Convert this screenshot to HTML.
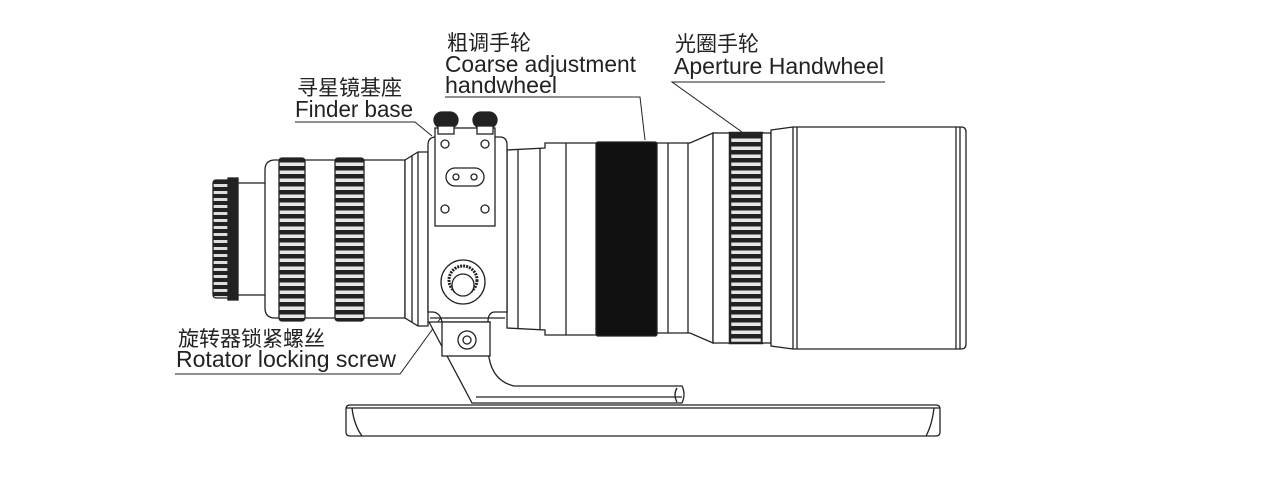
<!DOCTYPE html>
<html><head><meta charset="utf-8"><style>
html,body{margin:0;padding:0;background:#fff;}
svg{display:block}
text{font-family:"Liberation Sans","Noto Sans CJK SC",sans-serif;fill:#222;font-size:21px}
text.en{font-size:23px}
</style></head><body>
<svg width="1284" height="494" viewBox="0 0 1284 494" xmlns="http://www.w3.org/2000/svg">
<defs>
<pattern id="kn" width="6" height="7" patternUnits="userSpaceOnUse"><rect width="6" height="7" fill="#222"/><rect x="0" y="2" width="6" height="3" fill="#ddd"/></pattern>
<pattern id="kn2" width="6" height="8" patternUnits="userSpaceOnUse"><rect width="6" height="8" fill="#222"/><rect x="0" y="2.5" width="6" height="3.5" fill="#e6e6e6"/></pattern>
</defs>
<g fill="none" stroke="#222" stroke-width="1.3">
<g stroke="none">
<text x="447" y="50">粗调手轮</text>
<text class="en" x="445" y="72" textLength="191" lengthAdjust="spacingAndGlyphs">Coarse adjustment</text>
<text class="en" x="445" y="93" textLength="112" lengthAdjust="spacingAndGlyphs">handwheel</text>
<text x="675" y="51">光圈手轮</text>
<text class="en" x="674" y="74" textLength="210" lengthAdjust="spacingAndGlyphs">Aperture Handwheel</text>
<text x="297" y="95">寻星镜基座</text>
<text class="en" x="295" y="117" textLength="118" lengthAdjust="spacingAndGlyphs">Finder base</text>
<text x="178" y="346">旋转器锁紧螺丝</text>
<text class="en" x="176" y="367" textLength="220" lengthAdjust="spacingAndGlyphs">Rotator locking screw</text>
</g>
<g stroke-width="1">
<polyline points="445,97 640,97 645,140"/>
<polyline points="885,82 672,82 742,132"/>
<polyline points="295,122 415,122 432,136"/>
<polyline points="175,374 400,374 448,308"/>
</g>
<path d="M350,405 L936,405 Q940,405 940,409 L940,432 Q940,436 936,436 L350,436 Q346,436 346,432 L346,409 Q346,405 350,405Z" fill="#fff"/>
<line x1="346" y1="408" x2="940" y2="408"/>
<path d="M352,408 Q354,425 362,436 M934,408 Q932,425 926,436"/>
<path d="M429,322 L472,403 L682,403 Q686,394 682,386 L514,386 Q488,380 488,345 L490,322Z" fill="#fff"/>
<line x1="476" y1="397" x2="682" y2="397"/>
<path d="M677,388 Q673,395 677,402"/>
<rect x="213" y="180" width="24" height="118" rx="3" fill="url(#kn)"/>
<rect x="228" y="178" width="10" height="122" fill="#222"/>
<rect x="238" y="183" width="28" height="112" fill="#fff"/>
<path d="M275,160 L405,160 L405,318 L275,318 Q265,318 265,308 L265,170 Q265,160 275,160Z" fill="#fff"/>
<rect x="279" y="158" width="26" height="163" rx="3" fill="url(#kn2)"/>
<rect x="335" y="158" width="29" height="163" rx="3" fill="url(#kn2)"/>
<path d="M405,160 L418,152 L428,152 L428,326 L418,326 L405,318Z" fill="#fff"/>
<line x1="412" y1="156" x2="412" y2="322"/><line x1="418" y1="152" x2="418" y2="326"/>
<path d="M507,150 L545,148 L545,143 L597,143 L597,335 L545,335 L545,330 L507,328Z" fill="#fff"/>
<line x1="518" y1="149" x2="518" y2="329"/><line x1="540" y1="148" x2="540" y2="330"/><line x1="566" y1="143" x2="566" y2="335"/>
<rect x="596" y="142" width="61" height="194" rx="2" fill="#111"/>
<path d="M657,143 L690,143 L713,133 L713,343 L690,333 L657,333Z" fill="#fff"/>
<line x1="668" y1="143" x2="668" y2="333"/><line x1="688" y1="143" x2="688" y2="333"/>
<rect x="713" y="133" width="17" height="210" fill="#fff"/>
<rect x="730" y="133" width="32" height="210" fill="url(#kn2)"/>
<rect x="730" y="133" width="32" height="210" stroke-width="2.5"/>
<rect x="762" y="133" width="9" height="210" fill="#fff"/>
<path d="M771,130 L793,127 L961,127 Q966,127 966,132 L966,344 Q966,349 961,349 L793,349 L771,346Z" fill="#fff"/>
<line x1="793" y1="127" x2="793" y2="349"/><line x1="797" y1="127" x2="797" y2="349"/>
<line x1="956" y1="127" x2="956" y2="349"/><line x1="960" y1="127" x2="960" y2="349"/>
<path d="M436,137 L500,137 Q507,137 507,145 L507,312 L495,312 Q488,312 488,322 L442,322 Q440,312 432,312 L428,312 L428,145 Q428,137 436,137Z" fill="#fff"/>
<line x1="430" y1="318" x2="505" y2="318"/>
<rect x="442" y="322" width="48" height="34" fill="#fff"/>
<circle cx="467" cy="340" r="9"/><circle cx="467" cy="340" r="4"/>
<rect x="435" y="128" width="60" height="98" fill="#fff"/>
<rect x="446" y="168" width="38" height="18" rx="9"/>
<circle cx="456" cy="177" r="3"/><circle cx="474" cy="177" r="3"/>
<circle cx="445" cy="144" r="4"/><circle cx="485" cy="144" r="4"/>
<circle cx="445" cy="209" r="4"/><circle cx="485" cy="209" r="4"/>
<rect x="434" y="112" width="24" height="16" rx="8" fill="#222"/>
<rect x="473" y="112" width="24" height="16" rx="8" fill="#222"/>
<rect x="438" y="126" width="16" height="8" fill="#fff"/>
<rect x="477" y="126" width="16" height="8" fill="#fff"/>
<circle cx="463" cy="282" r="22" fill="#fff"/>
<circle cx="463" cy="280" r="14" fill="#fff" stroke-dasharray="2 1" stroke-width="3"/>
<circle cx="463" cy="285" r="11" fill="#fff"/>
</g>
</svg>
</body></html>
